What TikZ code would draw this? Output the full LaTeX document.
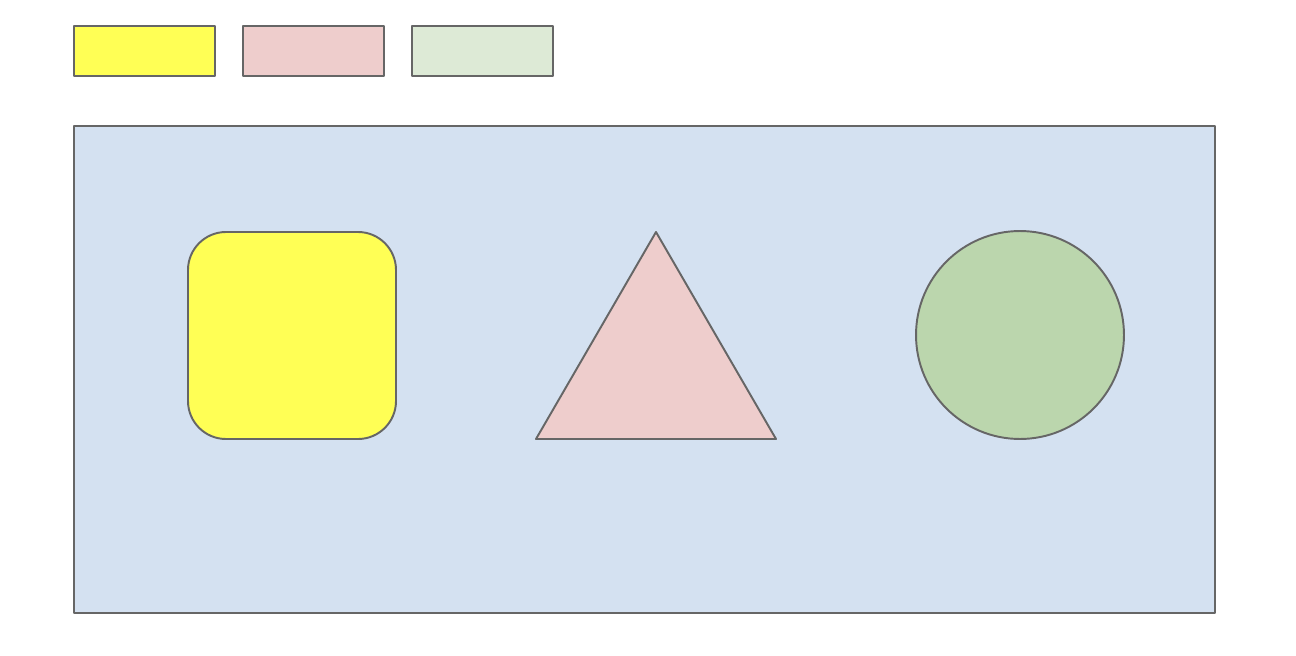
\documentclass[tikz,border=0pt]{standalone}
\usepackage{tikz}
\definecolor{shapeline}{HTML}{666666}
\definecolor{fillyellow}{HTML}{FFFF55}
\definecolor{fillpink}{HTML}{EECDCC}
\definecolor{fillmint}{HTML}{DDEAD6}
\definecolor{fillblue}{HTML}{D4E1F1}
\definecolor{fillgreen}{HTML}{BBD6AD}
\begin{document}
\begin{tikzpicture}[x=0.02cm,y=-0.02cm,
        figline/.style={draw=shapeline,line width=1.1pt,line join=round}]
     		\useasboundingbox (0,0) rectangle (1296,656);
     		% legend boxes
     		\foreach \x/\c in {74/fillyellow,243/fillpink,412/fillmint}{
     		\draw[figline,fill=\c] (\x,26) rectangle (\x+141,76);
     		}
     		% panel
     		\draw[figline,fill=fillblue] (74,126) rectangle (1215,613);
     		\draw[figline,fill=fillyellow,rounded corners=0.76cm] (188,232) rectangle (396,439);
     		\draw[figline,fill=fillpink] (656,232)--(776,439)--(536,439)--cycle;
     		\draw[figline,fill=fillgreen] (1020,335) circle[radius=2.08cm];
		\end{tikzpicture}
\end{document}
